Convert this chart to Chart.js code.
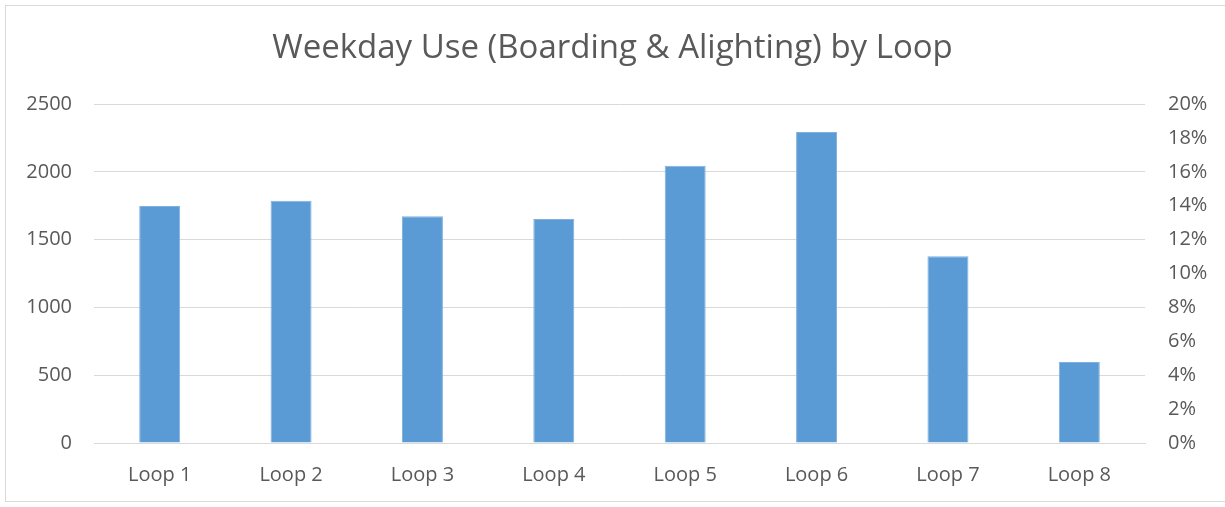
<!DOCTYPE html>
<html>
<head>
<meta charset="utf-8">
<script src="https://cdn.jsdelivr.net/npm/chart.js@4"></script>
<style>
    html, body { margin: 0; padding: 0; background: #fff; }
    #wrap { position: absolute; left: 0; top: 0; width: 1225px; height: 507px; }
    #frame { position: absolute; left: 5px; top: 5px; width: 1230px; height: 497px; border: 1px solid #d9d9d9; box-sizing: border-box; }
</style>
</head>
<body>
<div id="wrap">
    <div id="frame"></div>
    <canvas id="loopChart" width="1225" height="507"></canvas>
</div>
<script>
const loops = ['Loop 1', 'Loop 2', 'Loop 3', 'Loop 4', 'Loop 5', 'Loop 6', 'Loop 7', 'Loop 8'];
const weekdayUse = [1747, 1786, 1673, 1651, 2044, 2293, 1378, 597];
const leftTicks = [0, 500, 1000, 1500, 2000, 2500];
const rightTicks = [0, 0.02, 0.04, 0.06, 0.08, 0.10, 0.12, 0.14, 0.16, 0.18, 0.20];

const textColor = '#595959';
const fontFamily = "'Open Sans', 'Liberation Sans', sans-serif";

const ctx = document.getElementById('loopChart').getContext('2d');

new Chart(ctx, {
    type: 'bar',
    data: {
        labels: loops,
        datasets: [{
            label: 'Weekday Use',
            data: weekdayUse,
            backgroundColor: '#5b9bd5',
            borderColor: '#7fb0df',
            borderWidth: 1,
            barPercentage: 0.312,
            categoryPercentage: 1,
            yAxisID: 'y'
        }]
    },
    options: {
        responsive: false,
        animation: false,
        layout: { padding: { left: 0, right: 0, top: 0, bottom: 0 } },
        plugins: {
            legend: { display: false },
            tooltip: { enabled: false },
            title: {
                display: true,
                text: 'Weekday Use (Boarding & Alighting) by Loop',
                color: textColor,
                font: { family: fontFamily, size: 33, weight: 'normal', lineHeight: 1.2 },
                padding: { top: 29, bottom: 35.4 }
            }
        },
        scales: {
            x: {
                grid: { display: false },
                border: { color: '#d9d9d9', width: 1 },
                ticks: { color: textColor, font: { family: fontFamily, size: 20 }, padding: 12 },
                afterFit: (scale) => { scale.height = 64; }
            },
            y: {
                position: 'left',
                min: leftTicks[0],
                max: leftTicks[leftTicks.length - 1],
                afterBuildTicks: (scale) => { scale.ticks = leftTicks.map(v => ({ value: v })); },
                grid: { color: '#d9d9d9', drawTicks: false },
                border: { display: false },
                ticks: {
                    color: textColor,
                    font: { family: fontFamily, size: 20 },
                    padding: 22,
                    callback: (v) => String(v)
                },
                afterFit: (scale) => { scale.width = 94; }
            },
            y1: {
                position: 'right',
                min: rightTicks[0],
                max: rightTicks[rightTicks.length - 1],
                afterBuildTicks: (scale) => { scale.ticks = rightTicks.map(v => ({ value: v })); },
                grid: { display: false, drawTicks: false },
                border: { display: false },
                ticks: {
                    color: textColor,
                    font: { family: fontFamily, size: 20 },
                    padding: 23,
                    callback: (v) => Math.round(v * 100) + '%'
                },
                afterFit: (scale) => { scale.width = 80; }
            }
        }
    }
});
</script>
</body>
</html>
